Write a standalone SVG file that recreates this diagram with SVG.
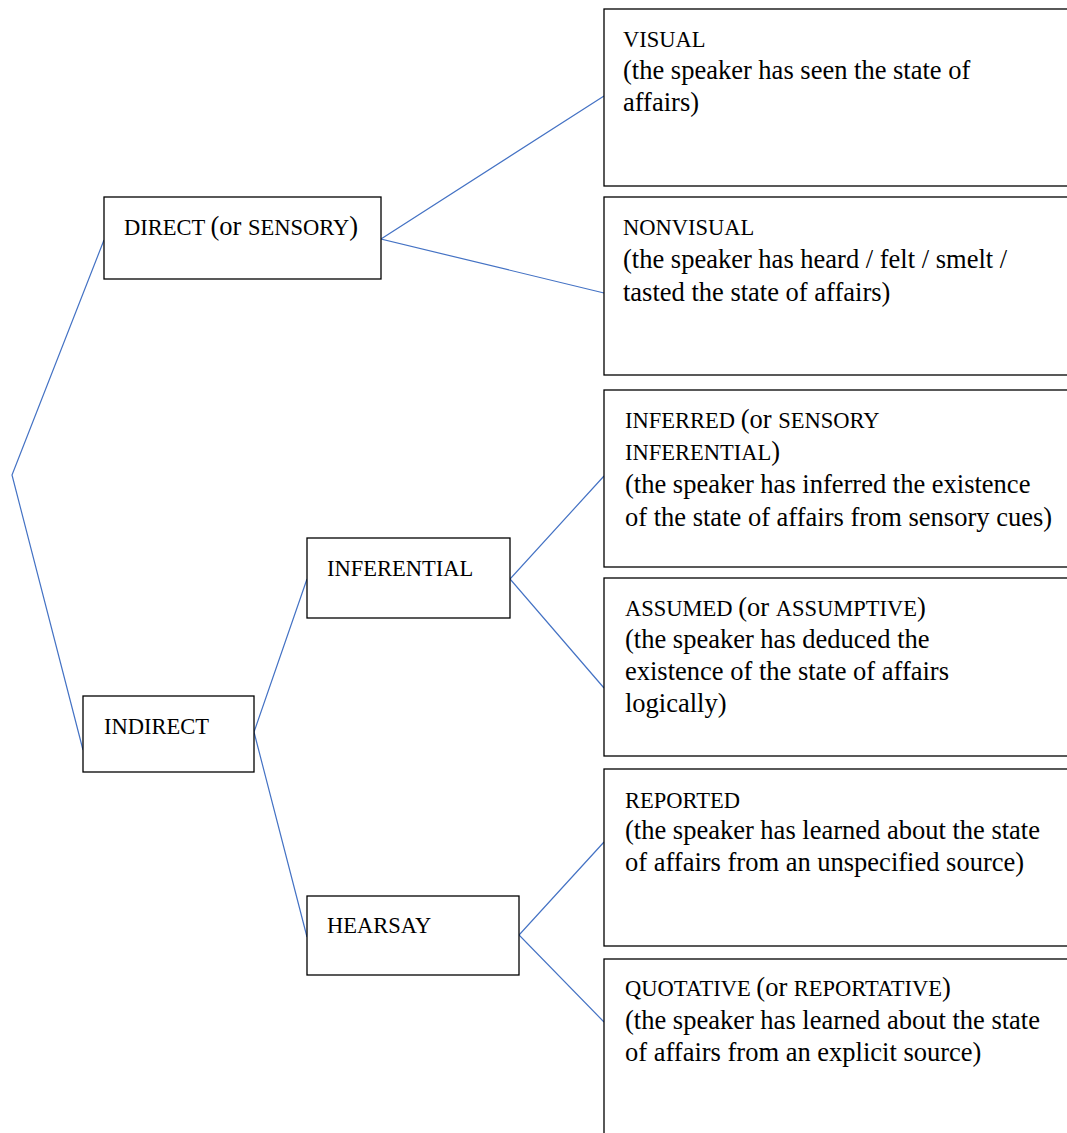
<svg xmlns="http://www.w3.org/2000/svg" width="1067" height="1133" viewBox="0 0 1067 1133">
<style>
.box{fill:#fff;stroke:#000;stroke-width:1.3}
.ln{fill:none;stroke:#4472C4;stroke-width:1.2}
text{font-family:"Liberation Serif","Times New Roman",serif;fill:#000;font-size:26.5px}
.c{font-size:22.5px}
</style>
<rect width="1067" height="1133" fill="#fff"/>
<g id="connectors">
<polyline class="ln" points="104,240 12,475 83,750"/>
<polyline class="ln" points="604,96 381,239 604,293"/>
<polyline class="ln" points="307,579 254,732 307,937"/>
<polyline class="ln" points="604,476 510,579 604,688"/>
<polyline class="ln" points="604,842 519,935 604,1022"/>
</g>
<g id="direct">
<rect class="box" x="104" y="197" width="277" height="82"/>
<text x="124" y="235"><tspan class="c">DIRECT </tspan>(or <tspan class="c">SENSORY</tspan>)</text>
</g>
<g id="indirect">
<rect class="box" x="83" y="696" width="171" height="76"/>
<text class="c" x="104" y="734">INDIRECT</text>
</g>
<g id="inferential">
<rect class="box" x="307" y="538" width="203" height="80"/>
<text class="c" x="327" y="576">INFERENTIAL</text>
</g>
<g id="hearsay">
<rect class="box" x="307" y="896" width="212" height="79"/>
<text class="c" x="327" y="933">HEARSAY</text>
</g>
<g id="visual">
<rect class="box" x="604" y="9" width="470" height="177"/>
<text class="c" x="623" y="47">VISUAL</text>
<text x="623" y="79">(the speaker has seen the state of</text>
<text x="623" y="111">affairs)</text>
</g>
<g id="nonvisual">
<rect class="box" x="604" y="197" width="470" height="178"/>
<text class="c" x="623" y="235">NONVISUAL</text>
<text x="623" y="268">(the speaker has heard / felt / smelt /</text>
<text x="623" y="301">tasted the state of affairs)</text>
</g>
<g id="inferred">
<rect class="box" x="604" y="390" width="470" height="177"/>
<text x="625" y="428"><tspan class="c">INFERRED </tspan>(or <tspan class="c">SENSORY</tspan></text>
<text x="625" y="460"><tspan class="c">INFERENTIAL</tspan>)</text>
<text x="625" y="493">(the speaker has inferred the existence</text>
<text x="625" y="526">of the state of affairs from sensory cues)</text>
</g>
<g id="assumed">
<rect class="box" x="604" y="578" width="470" height="178"/>
<text x="625" y="616"><tspan class="c">ASSUMED </tspan>(or <tspan class="c">ASSUMPTIVE</tspan>)</text>
<text x="625" y="648">(the speaker has deduced the</text>
<text x="625" y="680">existence of the state of affairs</text>
<text x="625" y="712">logically)</text>
</g>
<g id="reported">
<rect class="box" x="604" y="769" width="470" height="177"/>
<text class="c" x="625" y="808">REPORTED</text>
<text x="625" y="839">(the speaker has learned about the state</text>
<text x="625" y="871">of affairs from an unspecified source)</text>
</g>
<g id="quotative">
<rect class="box" x="604" y="959" width="470" height="190"/>
<text x="625" y="996"><tspan class="c">QUOTATIVE </tspan>(or <tspan class="c">REPORTATIVE</tspan>)</text>
<text x="625" y="1029">(the speaker has learned about the state</text>
<text x="625" y="1061">of affairs from an explicit source)</text>
</g>
</svg>
